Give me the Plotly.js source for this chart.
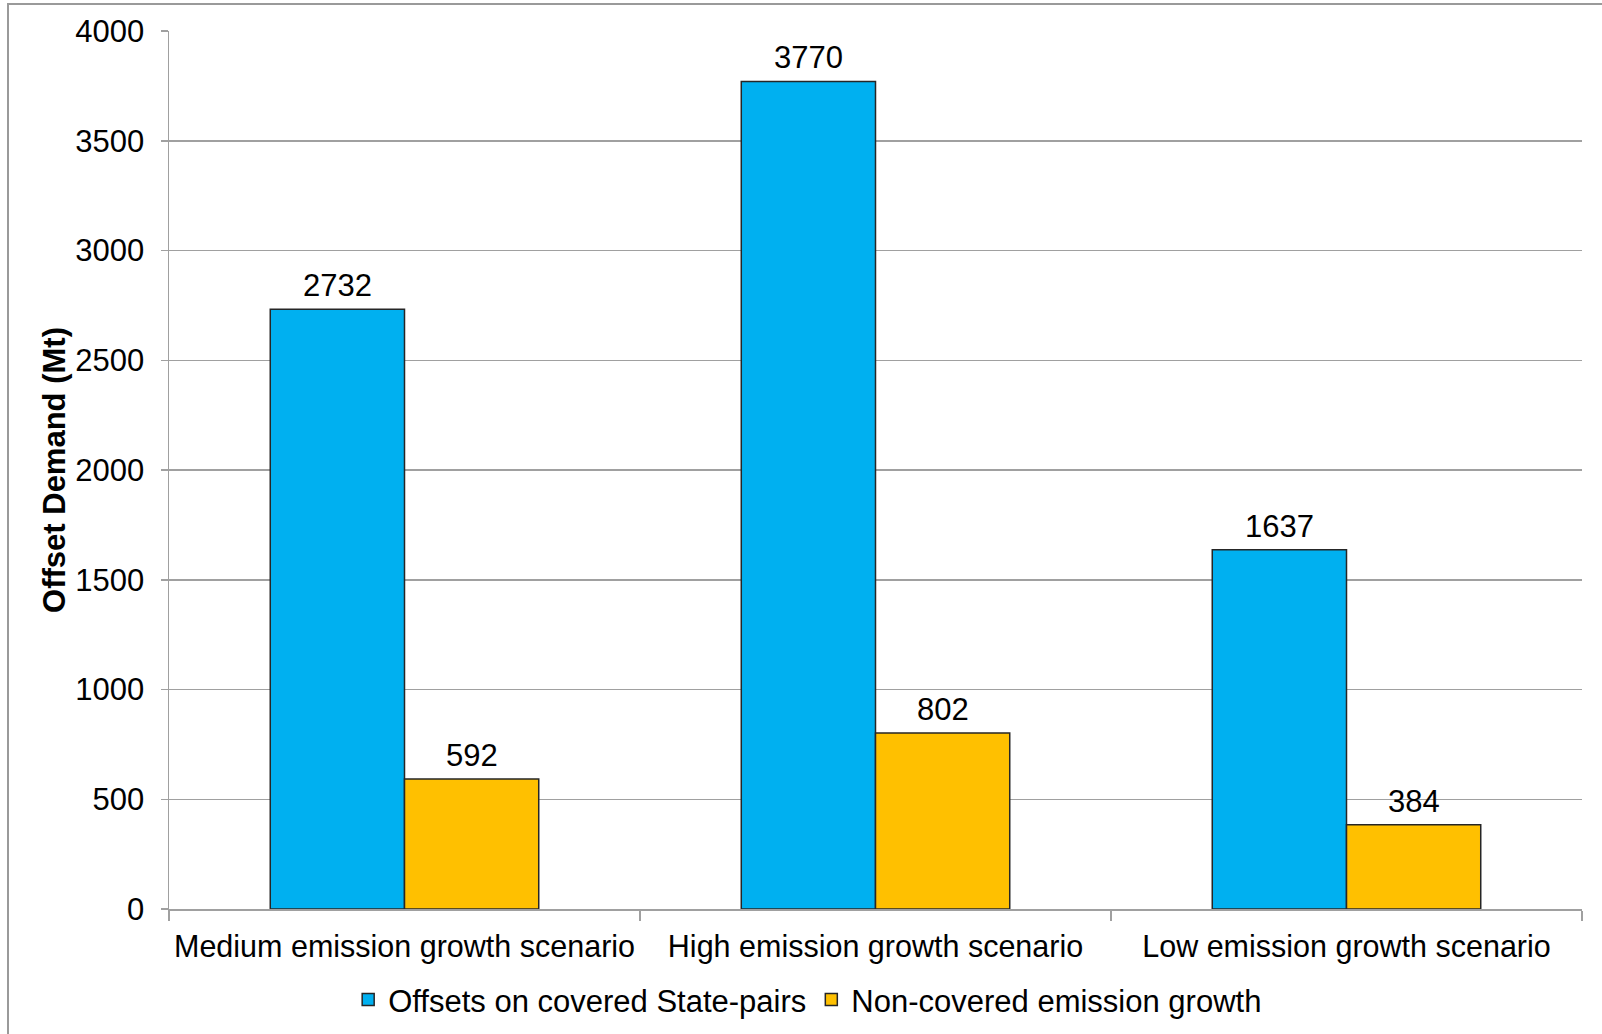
<!DOCTYPE html>
<html>
<head>
<meta charset="utf-8">
<script src="https://cdn.plot.ly/plotly-3.0.1.min.js"></script>
<style>
  html, body { margin: 0; padding: 0; background: #fff; }
  #wrap { position: relative; width: 1602px; height: 1034px; overflow: hidden; }
  #chart { position: absolute; left: 0; top: 0; width: 1602px; height: 1034px; }
  #frame { position: absolute; left: 7px; top: 3px; width: 1620px; height: 1060px;
           border: 2px solid #9a9a9a; box-sizing: border-box; pointer-events: none; }
</style>
</head>
<body>
<div id="wrap">
  <div id="chart"></div>
  <div id="frame"></div>
</div>
<script>
const categories = ["Medium emission growth scenario", "High emission growth scenario", "Low emission growth scenario"];
const seriesNames = ["Offsets on covered State-pairs", "Non-covered emission growth"];
const offsetsCovered = [2732, 3770, 1637];
const nonCoveredGrowth = [592, 802, 384];
const yTicks = [0, 500, 1000, 1500, 2000, 2500, 3000, 3500, 4000];

const FONT = "Liberation Sans, Arial, sans-serif";
const FS = 31;

const M = { l: 169, r: 20, t: 31, b: 125 };
const W = 1602, H = 1034;
const BARGAP = 0.43;
// half bar width in px (2 bars per group) for centering labels over each bar
const halfBar = ((W - M.l - M.r) / categories.length) * (1 - BARGAP) / 4;

const series = [offsetsCovered, nonCoveredGrowth];
const colors = ["#00B0F0", "#FFC000"];

const traces = series.map((vals, i) => ({
  type: "bar", name: seriesNames[i], x: categories, y: vals,
  marker: { color: colors[i], line: { color: "#262626", width: 1.5 } },
  hoverinfo: "skip"
}));

const annotations = [];
series.forEach((vals, i) => {
  vals.forEach((v, j) => {
    annotations.push({
      x: categories[j], y: v, xref: "x", yref: "y",
      text: String(v), showarrow: false,
      xshift: (i === 0 ? -1 : 1) * halfBar,
      yanchor: "bottom", yshift: 4,
      font: { family: FONT, size: FS, color: "#000" }
    });
  });
});

const layout = {
  width: W, height: H,
  margin: M,
  paper_bgcolor: "#fff", plot_bgcolor: "#fff",
  font: { family: FONT, size: FS, color: "#000" },
  barmode: "group", bargap: BARGAP, bargroupgap: 0,
  showlegend: true,
  annotations: annotations,
  legend: {
    orientation: "h", x: 0.452, xanchor: "center",
    yref: "container", y: 0.033, yanchor: "middle",
    font: { family: FONT, size: FS, color: "#000" }, itemclick: false,
    tracegroupgap: 0, itemwidth: 30
  },
  xaxis: {
    type: "category", showgrid: false, showline: true, linecolor: "#a0a0a0", linewidth: 1.5,
    ticks: "outside", tickson: "boundaries", ticklen: 10, tickcolor: "#a0a0a0", tickwidth: 1.5,
    tickangle: 0,
    tickfont: { family: FONT, size: 30.5, color: "#000" }, automargin: false,
    ticklabelstandoff: 10
  },
  yaxis: {
    range: [0, 4000], tickvals: yTicks, ticktext: yTicks.map(String),
    showgrid: true, gridcolor: "#a0a0a0", gridwidth: 1.5,
    showline: true, linecolor: "#a0a0a0", linewidth: 1.5,
    ticks: "outside", ticklen: 7, tickcolor: "#a0a0a0", tickwidth: 1.5,
    tickfont: { family: FONT, size: FS, color: "#000" }, zeroline: false,
    ticklabelstandoff: 10,
    title: { text: "<b>Offset Demand (Mt)</b>", font: { family: FONT, size: FS, color: "#000" }, standoff: 0 },
    automargin: false
  }
};

Plotly.newPlot("chart", traces, layout, { displayModeBar: false, staticPlot: true });
</script>
</body>
</html>
